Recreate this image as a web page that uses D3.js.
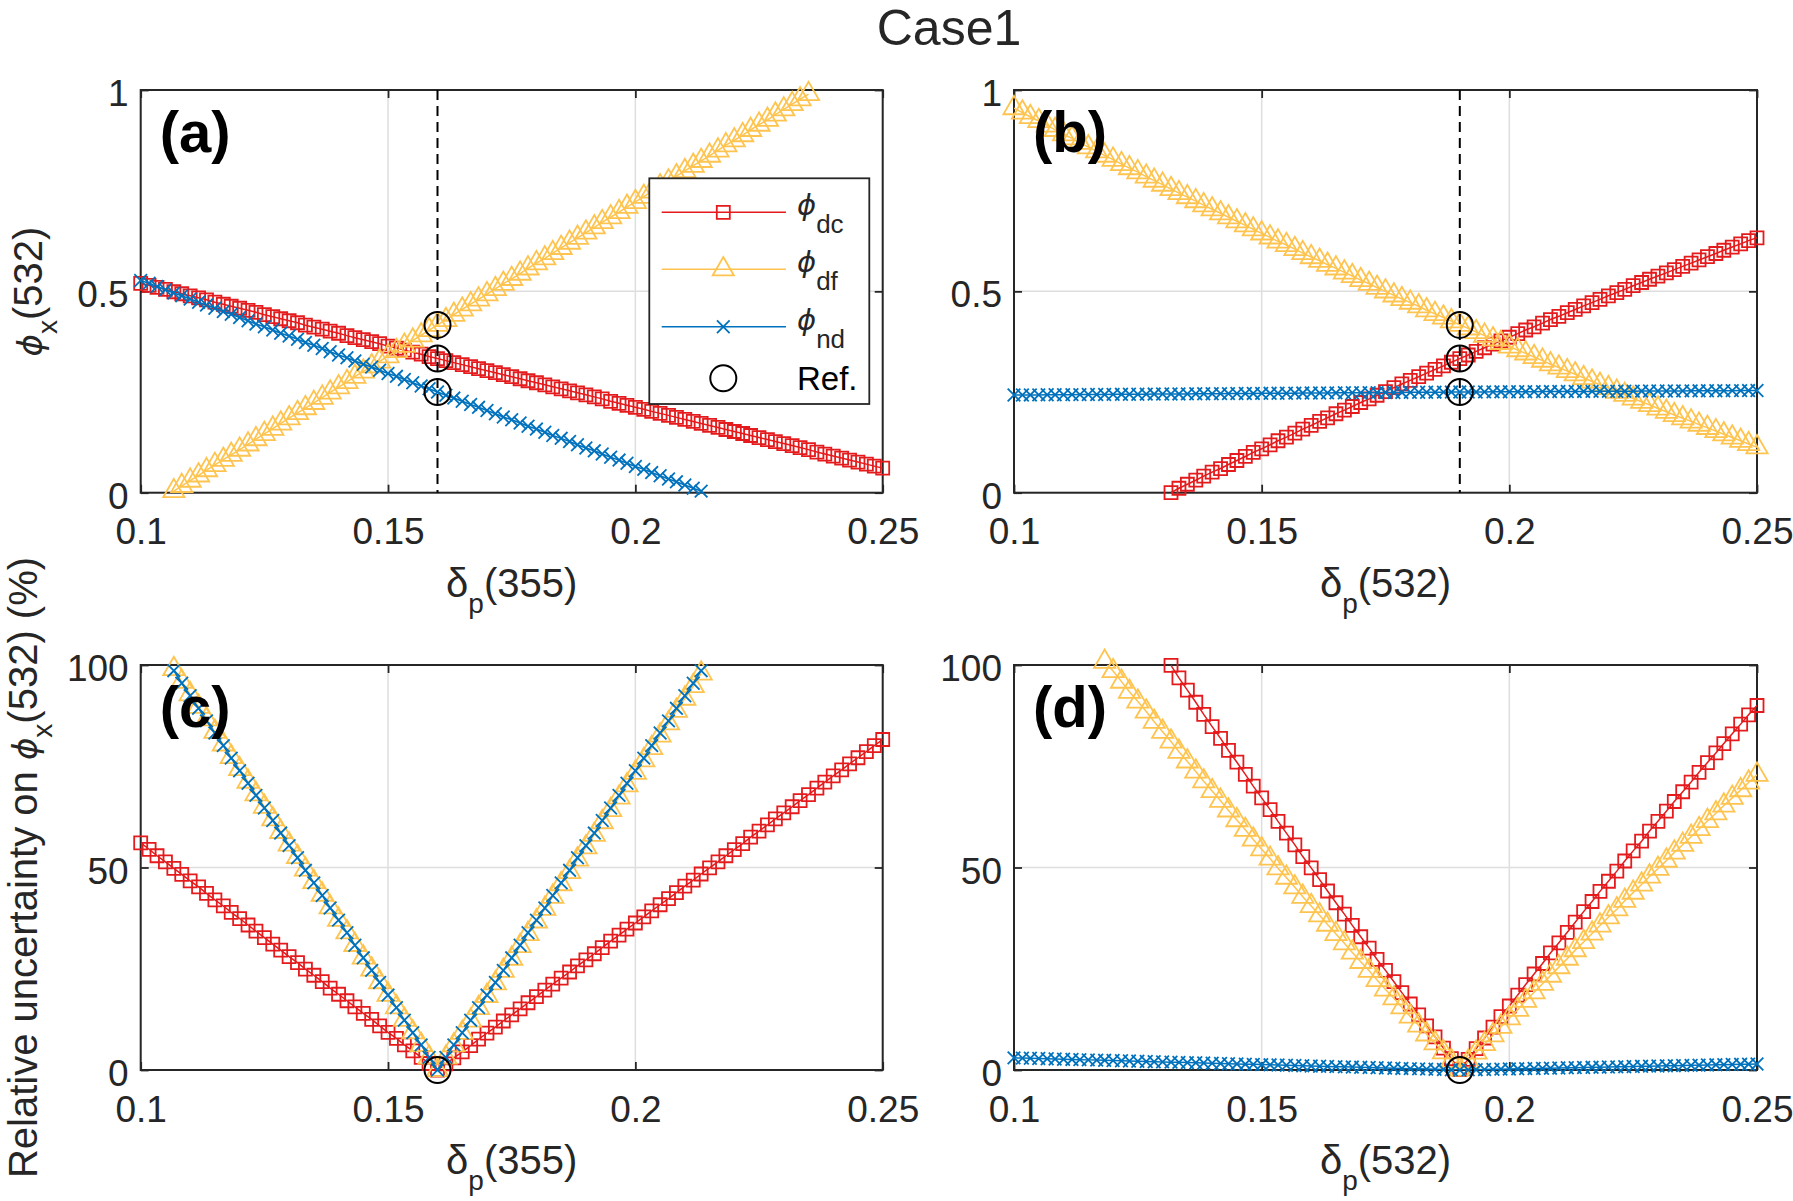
<!DOCTYPE html>
<html>
<head>
<meta charset="utf-8">
<script src="https://cdn.jsdelivr.net/npm/d3@7"></script>
<style>
  body { margin: 0; background: #fff; }
  svg { display: block; font-family: "Liberation Sans", Arial, Helvetica, sans-serif; }
</style>
</head>
<body>
<svg id="chart" width="1793" height="1201"></svg>
<script>
// depolarization ratio grid (same sampling for 355 and 532)
var dpGrid = [
  0.1000,0.1017,0.1033,0.1050,0.1067,0.1083,0.1100,0.1117,0.1133,0.1150,0.1167,0.1183,
  0.1200,0.1217,0.1233,0.1250,0.1267,0.1283,0.1300,0.1317,0.1333,0.1350,0.1367,0.1383,
  0.1400,0.1417,0.1433,0.1450,0.1467,0.1483,0.1500,0.1517,0.1533,0.1550,0.1567,0.1583,
  0.1600,0.1617,0.1633,0.1650,0.1667,0.1683,0.1700,0.1717,0.1733,0.1750,0.1767,0.1783,
  0.1800,0.1817,0.1833,0.1850,0.1867,0.1883,0.1900,0.1917,0.1933,0.1950,0.1967,0.1983,
  0.2000,0.2017,0.2033,0.2050,0.2067,0.2083,0.2100,0.2117,0.2133,0.2150,0.2167,0.2183,
  0.2200,0.2217,0.2233,0.2250,0.2267,0.2283,0.2300,0.2317,0.2333,0.2350,0.2367,0.2383,
  0.2400,0.2417,0.2433,0.2450,0.2467,0.2483,0.2500
];

// (a) phi_x(532) vs dp(355)
var phiDc355 = [
  0.520,0.515,0.510,0.505,0.499,0.494,0.489,0.484,0.479,0.473,0.468,0.463,0.458,0.453,0.448,0.442,
  0.437,0.432,0.427,0.422,0.416,0.411,0.406,0.401,0.396,0.390,0.385,0.380,0.375,0.370,0.364,0.359,
  0.354,0.349,0.344,0.338,0.333,
  0.328,0.323,0.318,0.313,0.308,0.303,0.298,0.293,0.288,0.283,0.278,0.273,0.268,0.263,0.258,0.253,
  0.248,0.243,0.238,0.233,0.227,0.222,0.217,0.212,0.207,0.202,0.197,0.192,0.187,0.182,0.177,0.172,
  0.167,0.162,0.157,0.152,0.147,0.142,0.137,0.132,0.127,0.122,0.117,0.112,0.107,0.101,0.096,0.091,
  0.086,0.081,0.076,0.071,0.066,0.061
];
var phiDf355 = [
  null,null,null,null,
  0.004,0.017,0.030,0.043,0.056,0.069,0.082,0.094,0.107,0.120,0.133,0.146,0.159,0.172,0.185,0.198,
  0.210,0.223,0.236,0.249,0.262,0.275,0.288,0.301,0.314,0.326,0.339,0.352,0.365,0.378,0.391,0.404,
  0.417,
  0.429,0.442,0.455,0.468,0.480,0.493,0.506,0.519,0.531,0.544,0.557,0.570,0.582,0.595,0.608,0.621,
  0.633,0.646,0.659,0.672,0.684,0.697,0.710,0.722,0.735,0.748,0.761,0.773,0.786,0.799,0.812,0.824,
  0.837,0.850,0.863,0.875,0.888,0.901,0.914,0.926,0.939,0.952,0.965,0.977,0.990,
  null,null,null,null,null,null,null,null,null
];
var phiNd355 = [
  0.527,0.520,0.512,0.504,0.496,0.489,0.481,0.473,0.466,0.458,0.450,0.443,0.435,0.427,0.419,0.412,
  0.404,0.396,0.389,0.381,0.373,0.366,0.358,0.350,0.342,0.335,0.327,0.319,0.312,0.304,0.296,0.289,
  0.281,0.273,0.265,0.258,0.250,
  0.242,0.235,0.227,0.219,0.212,0.204,0.196,0.188,0.181,0.173,0.165,0.158,0.150,0.142,0.135,0.127,
  0.119,0.111,0.104,0.096,0.088,0.081,0.073,0.065,0.058,0.050,0.042,0.034,0.027,0.019,0.011,0.004,
  null,null,null,null,null,null,null,null,null,null,null,
  null,null,null,null,null,null,null,null,null,null,null
];

// (b) phi_x(532) vs dp(532)
var phiDc532 = [
  null,null,null,null,null,null,null,null,null,null,null,null,null,null,null,null,null,null,null,
  0.000,0.011,0.021,0.031,0.041,0.051,0.060,0.070,0.080,0.090,0.100,0.109,0.119,0.129,0.138,0.148,
  0.158,0.167,0.177,0.186,0.196,0.205,0.214,0.224,0.233,0.242,0.251,0.261,0.270,0.279,0.288,0.297,
  0.306,0.315,0.324,0.333,0.342,0.351,0.360,0.369,0.377,0.386,0.395,0.404,0.412,0.421,0.430,0.438,
  0.447,0.455,0.464,0.472,0.480,0.489,0.497,0.505,0.514,0.522,0.530,0.538,0.546,0.554,0.562,0.570,
  0.578,0.586,0.594,0.602,0.610,0.618,0.626,0.633
];
var phiDf532 = [
  0.955,0.944,0.933,0.923,0.912,0.901,0.890,0.880,0.869,0.858,
  0.848,0.837,0.827,0.816,0.806,0.796,0.785,0.775,0.765,0.754,
  0.744,0.734,0.724,0.714,0.704,0.694,0.684,0.674,0.664,0.654,
  0.644,0.634,0.624,0.615,0.605,0.595,0.585,0.576,0.566,0.557,
  0.547,0.538,0.528,0.519,0.509,0.500,0.490,0.481,0.472,0.463,
  0.453,0.444,0.435,0.426,0.417,0.408,0.399,0.390,0.381,0.372,
  0.363,0.354,0.346,0.337,0.328,0.319,0.311,0.302,0.294,0.285,
  0.276,0.268,0.260,0.251,0.243,0.234,0.226,0.218,0.209,0.201,
  0.193,0.185,0.177,0.169,0.161,0.153,0.145,0.137,0.129,0.121,
  0.113
];
var phiNd532 = [
  0.2425,0.2426,0.2428,0.2429,0.2431,0.2432,0.2433,0.2435,0.2436,0.2438,0.2439,0.2440,0.2442,0.2443,
  0.2444,0.2446,0.2447,0.2449,0.2450,0.2451,0.2453,0.2454,0.2456,0.2457,0.2458,0.2460,0.2461,0.2463,
  0.2464,0.2465,0.2467,0.2468,0.2469,0.2471,0.2472,0.2474,0.2475,0.2476,0.2478,0.2479,0.2481,0.2482,
  0.2483,0.2485,0.2486,0.2488,0.2489,0.2490,0.2492,0.2493,0.2495,0.2496,0.2497,0.2499,0.2500,
  0.2501,0.2502,0.2503,0.2504,0.2505,0.2506,0.2507,0.2508,0.2509,0.2510,0.2511,0.2512,0.2513,0.2514,
  0.2515,0.2516,0.2518,0.2519,0.2520,0.2521,0.2522,0.2523,0.2524,0.2525,0.2526,0.2527,0.2528,0.2529,
  0.2530,0.2531,0.2532,0.2533,0.2534,0.2535,0.2536,0.2537
];

// (c) relative uncertainty (%) vs dp(355)
var uncDc355 = [
  56.1,54.5,52.9,51.4,49.8,48.3,46.7,45.2,43.6,42.0,40.5,38.9,37.4,35.8,34.3,32.7,31.1,29.6,28.0,
  26.5,24.9,23.4,21.8,20.2,18.7,17.1,15.6,14.0,12.5,10.9,9.3,7.8,6.2,4.7,3.1,1.6,0.0,
  1.5,3.0,4.5,6.0,7.6,9.1,10.6,12.1,13.6,15.1,16.6,18.1,19.7,21.2,22.7,24.2,25.7,27.2,28.7,30.2,
  31.8,33.3,34.8,36.3,37.8,39.3,40.8,42.3,43.8,45.4,46.9,48.4,49.9,51.4,52.9,54.4,55.9,57.5,59.0,
  60.5,62.0,63.5,65.0,66.5,68.0,69.6,71.1,72.6,74.1,75.6,77.1,78.6,80.1,81.6
];
var uncDf355 = [
  null,null,null,null,
  99.0,95.9,92.8,89.7,86.6,83.5,80.4,77.3,74.3,71.2,68.1,65.0,61.9,58.8,55.7,52.6,49.5,46.4,43.3,
  40.2,37.1,34.0,30.9,27.8,24.8,21.7,18.6,15.5,12.4,9.3,6.2,3.1,0.0,
  3.1,6.1,9.2,12.2,15.3,18.3,21.4,24.5,27.5,30.6,33.6,36.7,39.8,42.8,45.9,48.9,52.0,55.0,58.1,61.2,
  64.2,67.3,70.3,73.4,76.5,79.5,82.6,85.6,88.7,91.7,94.8,97.9,
  null,null,null,null,null,null,null,null,null,null,null,
  null,null,null,null,null,null,null,null,null,null,null
];
var uncNd355 = [
  null,null,null,null,
  98.6,95.5,92.4,89.3,86.2,83.2,80.1,77.0,73.9,70.8,67.8,64.7,61.6,58.5,55.4,52.4,49.3,46.2,43.1,
  40.0,37.0,33.9,30.8,27.7,24.6,21.6,18.5,15.4,12.3,9.2,6.2,3.1,0.0,
  3.1,6.2,9.2,12.3,15.4,18.5,21.6,24.6,27.7,30.8,33.9,37.0,40.0,43.1,46.2,49.3,52.4,55.4,58.5,61.6,
  64.7,67.8,70.8,73.9,77.0,80.1,83.2,86.2,89.3,92.4,95.5,98.6,
  null,null,null,null,null,null,null,null,null,null,null,
  null,null,null,null,null,null,null,null,null,null,null
];

// (d) relative uncertainty (%) vs dp(532)
var uncDc532 = [
  null,null,null,null,null,null,null,null,null,null,null,null,null,null,null,null,null,null,null,
  99.9,96.8,93.8,90.8,87.8,84.8,81.9,78.9,76.0,73.0,70.1,67.2,64.3,61.4,58.5,55.6,52.7,49.9,47.0,
  44.2,41.3,38.5,35.7,32.9,30.1,27.3,24.6,21.8,19.1,16.3,13.6,10.9,8.2,5.4,2.8,0.1,
  2.6,5.3,7.9,10.6,13.2,15.8,18.5,21.1,23.7,26.3,28.9,31.4,34.0,36.5,39.1,41.6,44.1,46.6,49.1,51.6,
  54.1,56.5,59.0,61.4,63.9,66.3,68.7,71.1,73.5,75.9,78.3,80.6,83.0,85.4,87.7,90.0
];
var uncDf532 = [
  null,null,null,null,null,null,null,null,null,null,null,
  100.8,98.5,95.9,93.4,91.0,88.5,86.0,83.5,81.1,78.6,76.2,73.7,71.3,68.9,66.5,64.1,61.7,59.3,56.9,
  54.5,52.2,49.8,47.5,45.1,42.8,40.5,38.2,35.9,33.6,31.3,29.0,26.7,24.5,22.2,19.9,17.7,15.5,13.2,
  11.0,8.8,6.6,4.4,2.2,0.1,
  2.1,4.3,6.4,8.6,10.7,12.8,14.9,17.1,19.2,21.3,23.3,25.4,27.5,29.6,31.6,33.7,35.7,37.7,39.7,41.8,
  43.8,45.8,47.8,49.7,51.7,53.7,55.6,57.6,59.5,61.5,63.4,65.3,67.2,69.1,71.0,72.9
];
var uncNd532 = [
  3.00,2.94,2.89,2.83,2.78,2.72,2.67,2.61,2.56,2.50,2.44,2.39,2.33,2.28,2.22,2.17,2.11,2.05,2.00,
  1.94,1.89,1.83,1.78,1.72,1.67,1.61,1.55,1.50,1.44,1.39,1.33,1.28,1.22,1.17,1.11,1.05,1.00,0.94,
  0.89,0.83,0.78,0.72,0.66,0.61,0.55,0.50,0.44,0.39,0.33,0.28,0.22,0.17,0.11,0.06,0.00,
  0.04,0.08,0.12,0.16,0.21,0.25,0.29,0.33,0.37,0.41,0.45,0.49,0.54,0.58,0.62,0.66,0.70,0.74,0.78,
  0.82,0.87,0.91,0.95,0.99,1.03,1.07,1.11,1.15,1.19,1.24,1.28,1.32,1.36,1.40,1.44,1.48
];

// reference point
var refDp355 = 0.16;
var refDp532 = 0.19;
var refPhi = [0.4167, 0.3333, 0.25];
var refUnc = [0];

// ticks
var xTicks = [0.1, 0.15, 0.2, 0.25];
var phiTicks = [0, 0.5, 1];
var uncTicks = [0, 50, 100];

var seriesKeys = ['dc', 'df', 'nd'];
var seriesColors = ['#E41A1C', '#FEC44F', '#0072BD'];

var svg = d3.select('#chart');
var ink = '#262626';

// marker shapes
var crossType = {
    draw: function (ctx, size) {
        var r = Math.sqrt(size) / 2;
        ctx.moveTo(-r, -r); ctx.lineTo(r, r);
        ctx.moveTo(-r, r); ctx.lineTo(r, -r);
    }
};
var markerPaths = [
    d3.symbol(d3.symbolSquare, 169)(),
    d3.symbol(d3.symbolTriangle, 195)(),
    d3.symbol(crossType, 160)()
];
var refMarker = d3.symbol(d3.symbolCircle, Math.PI * 13 * 13)();

var panels = [
    {id: 'a', left: 140.7, right: 882.7, top: 90, bottom: 492.7, yDomain: [0, 1], yTicks: phiTicks,
        series: [phiDc355, phiDf355, phiNd355], refX: refDp355, refY: refPhi, dashed: true, wl: '355'},
    {id: 'b', left: 1014, right: 1757, top: 90, bottom: 492.7, yDomain: [0, 1], yTicks: phiTicks,
        series: [phiDc532, phiDf532, phiNd532], refX: refDp532, refY: refPhi, dashed: true, wl: '532'},
    {id: 'c', left: 140.7, right: 882.7, top: 665, bottom: 1070, yDomain: [0, 100], yTicks: uncTicks,
        series: [uncDc355, uncDf355, uncNd355], refX: refDp355, refY: refUnc, dashed: false, wl: '355'},
    {id: 'd', left: 1014, right: 1757, top: 665, bottom: 1070, yDomain: [0, 100], yTicks: uncTicks,
        series: [uncDc532, uncDf532, uncNd532], refX: refDp532, refY: refUnc, dashed: false, wl: '532'}
];

function drawPanel(p) {
    var x = d3.scaleLinear().domain([0.1, 0.25]).range([p.left, p.right]);
    var y = d3.scaleLinear().domain(p.yDomain).range([p.bottom, p.top]);
    var g = svg.append('g').attr('class', 'panel-' + p.id);
    var w = p.right - p.left, h = p.bottom - p.top;

    // grid
    g.append('g').selectAll('line').data(xTicks).join('line')
        .attr('x1', d => x(d)).attr('x2', d => x(d)).attr('y1', p.top).attr('y2', p.bottom)
        .attr('stroke', '#dedede').attr('stroke-width', 1.5);
    g.append('g').selectAll('line').data(p.yTicks).join('line')
        .attr('x1', p.left).attr('x2', p.right).attr('y1', d => y(d)).attr('y2', d => y(d))
        .attr('stroke', '#dedede').attr('stroke-width', 1.5);

    // axes with inward ticks
    var fmt = d => String(d);
    var ax = [
        g.append('g').attr('transform', 'translate(0,' + p.bottom + ')')
            .call(d3.axisBottom(x).tickValues(xTicks).tickFormat(fmt).tickSizeInner(-8).tickSizeOuter(0).tickPadding(25)),
        g.append('g').attr('transform', 'translate(0,' + p.top + ')')
            .call(d3.axisTop(x).tickValues(xTicks).tickFormat('').tickSizeInner(-8).tickSizeOuter(0)),
        g.append('g').attr('transform', 'translate(' + p.left + ',0)')
            .call(d3.axisLeft(y).tickValues(p.yTicks).tickFormat(fmt).tickSizeInner(-8).tickSizeOuter(0).tickPadding(12)),
        g.append('g').attr('transform', 'translate(' + p.right + ',0)')
            .call(d3.axisRight(y).tickValues(p.yTicks).tickFormat('').tickSizeInner(-8).tickSizeOuter(0))
    ];
    ax.forEach(function (a) {
        a.select('.domain').remove();
        a.selectAll('.tick line').attr('stroke', ink).attr('stroke-width', 1.8);
        a.selectAll('.tick text').attr('fill', ink).attr('font-size', 37)
            .attr('font-family', '"Liberation Sans", Arial, sans-serif');
    });
    ax[0].selectAll('.tick text').attr('dy', '0.72em');
    ax[2].selectAll('.tick text').attr('dy', '0.42em');

    g.append('rect').attr('x', p.left).attr('y', p.top).attr('width', w).attr('height', h)
        .attr('fill', 'none').attr('stroke', ink).attr('stroke-width', 2);

    // clip for lines
    svg.append('clipPath').attr('id', 'clip-' + p.id).append('rect')
        .attr('x', p.left).attr('y', p.top).attr('width', w).attr('height', h);

    // data
    p.series.forEach(function (vals, k) {
        var pts = dpGrid.map((d, i) => [d, vals[i]]);
        var line = d3.line().defined(d => d[1] != null).x(d => x(d[0])).y(d => y(d[1]));
        var sg = g.append('g').attr('class', 'series-' + seriesKeys[k]);
        sg.append('path').attr('d', line(pts)).attr('clip-path', 'url(#clip-' + p.id + ')')
            .attr('fill', 'none').attr('stroke', seriesColors[k]).attr('stroke-width', 1.5);
        sg.selectAll('path.mk').data(pts.filter(d => d[1] != null)).join('path')
            .attr('class', 'mk')
            .attr('transform', d => 'translate(' + x(d[0]) + ',' + y(d[1]) + ')')
            .attr('d', markerPaths[k])
            .attr('fill', 'none').attr('stroke', seriesColors[k]).attr('stroke-width', 1.8);
    });

    if (p.dashed) {
        g.append('line').attr('x1', x(p.refX)).attr('x2', x(p.refX)).attr('y1', p.top).attr('y2', p.bottom)
            .attr('stroke', '#000').attr('stroke-width', 2).attr('stroke-dasharray', '10,6');
    }
    g.selectAll('path.ref').data(p.refY).join('path').attr('class', 'ref')
        .attr('transform', d => 'translate(' + x(p.refX) + ',' + y(d) + ')')
        .attr('d', refMarker).attr('fill', 'none').attr('stroke', '#000').attr('stroke-width', 2);

    // panel letter
    g.append('text').attr('x', p.left + 19).attr('y', p.top + 62)
        .attr('font-size', 58).attr('font-weight', 'bold').attr('fill', '#000')
        .text('(' + p.id + ')');

    // x label
    var xl = g.append('text').attr('x', (p.left + p.right) / 2).attr('y', p.bottom + 104)
        .attr('text-anchor', 'middle').attr('font-size', 40).attr('fill', ink);
    xl.append('tspan').text('δ');
    xl.append('tspan').attr('dy', 16).attr('font-size', 28).text('p');
    xl.append('tspan').attr('dy', -16).text('(' + p.wl + ')');
}

panels.forEach(drawPanel);

// y labels
function phiLabel(sel, prefix, suffix) {
    if (prefix) sel.append('tspan').text(prefix);
    sel.append('tspan').attr('font-family', '"DejaVu Sans", sans-serif').attr('font-style', 'italic')
        .attr('font-size', 34).text('ϕ');
    sel.append('tspan').attr('dy', 15).attr('font-size', 28).text('x');
    sel.append('tspan').attr('dy', -15).text(suffix);
}
var ylA = svg.append('text').attr('transform', 'translate(42,291.5) rotate(-90)')
    .attr('text-anchor', 'middle').attr('font-size', 40).attr('fill', ink);
phiLabel(ylA, null, '(532)');
var ylC = svg.append('text').attr('transform', 'translate(37,867.5) rotate(-90)')
    .attr('text-anchor', 'middle').attr('font-size', 40).attr('fill', ink);
phiLabel(ylC, 'Relative uncertainty on ', '(532) (%)');

// title
svg.append('text').attr('x', 949).attr('y', 45).attr('text-anchor', 'middle')
    .attr('font-size', 50).attr('fill', ink).text('Case1');

// legend in panel (a)
var leg = svg.append('g').attr('class', 'legend');
leg.append('rect').attr('x', 649.3).attr('y', 178.3).attr('width', 220).attr('height', 225.7)
    .attr('fill', '#fff').attr('stroke', ink).attr('stroke-width', 1.8);
var legRows = [212.3, 269.3, 326.7];
seriesKeys.forEach(function (key, k) {
    var ry = legRows[k];
    leg.append('line').attr('x1', 661.7).attr('x2', 786).attr('y1', ry).attr('y2', ry)
        .attr('stroke', seriesColors[k]).attr('stroke-width', 1.5);
    leg.append('path').attr('transform', 'translate(723.3,' + ry + ')').attr('d', markerPaths[k])
        .attr('fill', 'none').attr('stroke', seriesColors[k]).attr('stroke-width', 1.8);
    var t = leg.append('text').attr('x', 797).attr('y', ry + 3).attr('font-size', 33).attr('fill', ink);
    t.append('tspan').attr('font-family', '"DejaVu Sans", sans-serif').attr('font-style', 'italic')
        .attr('font-size', 29).text('ϕ');
    t.append('tspan').attr('dy', 18).attr('font-size', 26).text(key);
});
leg.append('path').attr('transform', 'translate(723.3,378.3)').attr('d', refMarker)
    .attr('fill', 'none').attr('stroke', '#000').attr('stroke-width', 2);
leg.append('text').attr('x', 797).attr('y', 390).attr('font-size', 33).attr('fill', '#000').text('Ref.');
</script>
</body>
</html>
